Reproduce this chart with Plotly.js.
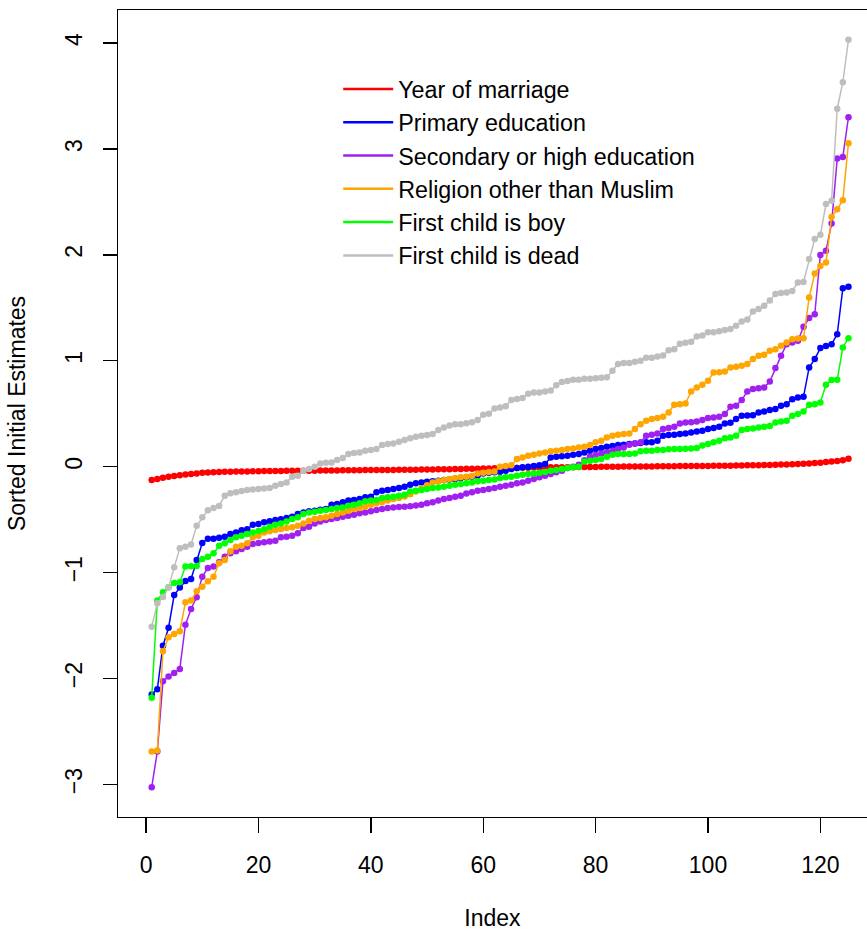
<!DOCTYPE html>
<html><head><meta charset="utf-8">
<script src="https://cdn.plot.ly/plotly-3.0.1.min.js"></script>
<style>html,body{margin:0;padding:0;background:#fff}</style>
</head><body><div id="chart" style="width:867px;height:936px"></div>
<script>
const seriesNames = ["Year of marriage","Primary education","Secondary or high education","Religion other than Muslim","First child is boy","First child is dead"];
const seriesColors = ["#FF0000","#0000FF","#A020F0","#FFA500","#00FF00","#BEBEBE"];
const xTicks = [0,20,40,60,80,100,120];
const yTicks = [-3,-2,-1,0,1,2,3,4];

const yearOfMarriage = [-0.125,-0.115,-0.105,-0.095,-0.088,-0.080,-0.074,-0.068,-0.063,-0.058,
 -0.055,-0.052,-0.050,-0.048,-0.047,-0.046,-0.045,-0.044,-0.043,-0.042,
 -0.041,-0.041,-0.040,-0.040,-0.039,-0.039,-0.038,-0.038,-0.037,-0.037,
 -0.036,-0.036,-0.035,-0.035,-0.034,-0.034,-0.033,-0.033,-0.032,-0.032,
 -0.031,-0.031,-0.030,-0.030,-0.029,-0.029,-0.028,-0.028,-0.027,-0.027,
 -0.026,-0.025,-0.024,-0.023,-0.022,-0.021,-0.020,-0.019,-0.018,-0.017,
 -0.016,-0.015,-0.014,-0.013,-0.012,-0.011,-0.010,-0.009,-0.008,-0.007,
 -0.006,-0.006,-0.005,-0.005,-0.004,-0.004,-0.003,-0.003,-0.002,-0.002,
 -0.001,-0.001,0.000,0.000,0.001,0.001,0.002,0.002,0.003,0.003,
 0.004,0.004,0.005,0.005,0.006,0.006,0.007,0.007,0.008,0.008,
 0.009,0.009,0.010,0.010,0.011,0.012,0.013,0.014,0.015,0.016,
 0.017,0.018,0.020,0.022,0.024,0.026,0.028,0.030,0.034,0.038,
 0.045,0.050,0.055,0.060,0.075];

const primaryEducation = [-2.15,-2.10,-1.69,-1.52,-1.21,-1.14,-1.08,-1.06,-0.88,-0.72,
 -0.68,-0.68,-0.67,-0.66,-0.635,-0.62,-0.60,-0.59,-0.547,-0.54,
 -0.525,-0.515,-0.503,-0.497,-0.484,-0.472,-0.447,-0.431,-0.421,-0.415,
 -0.406,-0.40,-0.358,-0.352,-0.336,-0.32,-0.314,-0.305,-0.289,-0.283,
 -0.242,-0.226,-0.22,-0.21,-0.20,-0.189,-0.17,-0.157,-0.148,-0.142,
 -0.138,-0.132,-0.126,-0.12,-0.116,-0.107,-0.10,-0.094,-0.085,-0.063,
 -0.057,-0.053,-0.047,-0.038,-0.022,-0.013,-0.006,0.0,0.006,0.013,
 0.025,0.088,0.094,0.10,0.104,0.113,0.12,0.135,0.150,0.167,
 0.176,0.189,0.195,0.205,0.208,0.214,0.22,0.223,0.23,0.232,
 0.245,0.292,0.299,0.302,0.308,0.314,0.324,0.333,0.34,0.355,
 0.365,0.377,0.409,0.415,0.45,0.481,0.483,0.487,0.512,0.522,
 0.535,0.544,0.575,0.591,0.638,0.654,0.66,0.937,1.016,1.12,
 1.14,1.157,1.25,1.686,1.70];

const secondaryEducation = [-3.025,-2.689,-2.025,-1.981,-1.947,-1.909,-1.491,-1.343,-1.233,-1.038,
 -0.956,-0.943,-0.903,-0.849,-0.818,-0.799,-0.777,-0.755,-0.73,-0.72,
 -0.714,-0.705,-0.698,-0.667,-0.66,-0.651,-0.629,-0.579,-0.566,-0.535,
 -0.516,-0.503,-0.494,-0.484,-0.472,-0.462,-0.453,-0.44,-0.431,-0.421,
 -0.409,-0.40,-0.39,-0.384,-0.38,-0.377,-0.372,-0.365,-0.358,-0.346,
 -0.336,-0.32,-0.305,-0.296,-0.283,-0.274,-0.252,-0.242,-0.226,-0.22,
 -0.21,-0.20,-0.189,-0.179,-0.17,-0.157,-0.148,-0.132,-0.116,-0.10,
 -0.085,-0.069,-0.053,-0.038,-0.013,0.0,0.019,0.06,0.095,0.11,
 0.126,0.135,0.151,0.167,0.182,0.208,0.22,0.23,0.292,0.302,
 0.314,0.355,0.365,0.377,0.409,0.418,0.42,0.428,0.44,0.459,
 0.465,0.472,0.497,0.566,0.575,0.629,0.711,0.733,0.742,0.748,
 0.805,0.931,1.047,1.157,1.173,1.189,1.321,1.403,1.44,2.0,
 2.04,2.296,2.909,2.925,3.30];

const religionNonMuslim = [-2.689,-2.68,-1.742,-1.61,-1.579,-1.553,-1.28,-1.264,-1.176,-1.132,
 -1.082,-1.038,-0.912,-0.881,-0.799,-0.755,-0.745,-0.723,-0.667,-0.651,
 -0.62,-0.61,-0.597,-0.588,-0.579,-0.572,-0.557,-0.535,-0.509,-0.494,
 -0.484,-0.478,-0.462,-0.447,-0.431,-0.415,-0.40,-0.39,-0.377,-0.358,
 -0.346,-0.336,-0.318,-0.305,-0.296,-0.28,-0.26,-0.235,-0.205,-0.175,
 -0.148,-0.138,-0.126,-0.116,-0.107,-0.10,-0.094,-0.088,-0.063,-0.057,
 -0.05,-0.044,0.0,0.006,0.013,0.072,0.088,0.104,0.113,0.126,
 0.135,0.145,0.151,0.157,0.167,0.173,0.182,0.189,0.205,0.23,
 0.245,0.277,0.292,0.302,0.308,0.314,0.355,0.402,0.434,0.45,
 0.459,0.472,0.512,0.585,0.591,0.597,0.711,0.748,0.774,0.811,
 0.89,0.893,0.899,0.937,0.943,0.953,0.969,1.016,1.047,1.057,
 1.094,1.11,1.142,1.173,1.204,1.211,1.214,1.597,1.824,1.896,
 1.927,2.358,2.43,2.516,3.054];

const firstChildBoy = [-2.18,-1.264,-1.186,-1.138,-1.097,-1.09,-0.943,-0.94,-0.937,-0.871,
 -0.849,-0.818,-0.745,-0.723,-0.692,-0.667,-0.651,-0.635,-0.62,-0.606,
 -0.59,-0.566,-0.547,-0.535,-0.516,-0.494,-0.478,-0.447,-0.431,-0.425,
 -0.415,-0.409,-0.40,-0.39,-0.384,-0.368,-0.358,-0.346,-0.327,-0.32,
 -0.314,-0.296,-0.289,-0.283,-0.274,-0.264,-0.233,-0.226,-0.22,-0.21,
 -0.20,-0.195,-0.189,-0.179,-0.17,-0.164,-0.157,-0.148,-0.138,-0.132,
 -0.126,-0.12,-0.107,-0.10,-0.094,-0.085,-0.075,-0.069,-0.063,-0.057,
 -0.05,-0.038,-0.031,-0.022,-0.013,-0.006,0.0,0.05,0.057,0.063,
 0.072,0.094,0.113,0.12,0.12,0.12,0.126,0.145,0.151,0.151,
 0.157,0.157,0.164,0.167,0.167,0.17,0.173,0.176,0.20,0.215,
 0.23,0.245,0.27,0.277,0.292,0.346,0.355,0.362,0.371,0.377,
 0.384,0.418,0.428,0.434,0.481,0.497,0.522,0.585,0.591,0.607,
 0.774,0.818,0.82,1.126,1.214];

const firstChildDead = [-1.51,-1.29,-1.23,-1.14,-0.95,-0.77,-0.755,-0.735,-0.557,-0.478,
 -0.41,-0.39,-0.37,-0.274,-0.25,-0.24,-0.23,-0.22,-0.214,-0.21,
 -0.205,-0.20,-0.18,-0.163,-0.148,-0.094,-0.085,-0.038,-0.022,0.0,
 0.031,0.038,0.041,0.063,0.082,0.12,0.129,0.135,0.151,0.157,
 0.167,0.205,0.214,0.22,0.236,0.252,0.27,0.283,0.292,0.30,
 0.31,0.346,0.37,0.39,0.40,0.40,0.41,0.42,0.44,0.49,
 0.50,0.55,0.56,0.57,0.63,0.64,0.65,0.69,0.70,0.70,
 0.71,0.72,0.77,0.80,0.81,0.82,0.82,0.83,0.83,0.835,
 0.84,0.845,0.906,0.97,0.98,0.98,0.99,1.00,1.03,1.03,
 1.04,1.05,1.10,1.11,1.16,1.17,1.18,1.23,1.24,1.27,
 1.27,1.28,1.29,1.30,1.33,1.37,1.39,1.465,1.49,1.52,
 1.57,1.63,1.64,1.645,1.66,1.74,1.745,1.96,2.15,2.19,
 2.48,2.51,3.38,3.63,4.03];

const allSeries = [yearOfMarriage, primaryEducation, secondaryEducation, religionNonMuslim, firstChildBoy, firstChildDead];
const indexValues = yearOfMarriage.map((_, i) => i + 1);

const traces = [];
allSeries.forEach((vals, k) => {
  traces.push({
    type: 'scatter', mode: 'lines+markers',
    x: indexValues, y: vals,
    name: seriesNames[k], showlegend: false, legendgroup: 'g' + k,
    line: {color: seriesColors[k], width: 1.5},
    marker: {color: seriesColors[k], size: 6.5}
  });
});
allSeries.forEach((vals, k) => {
  traces.push({
    type: 'scatter', mode: 'lines',
    x: [null], y: [null],
    name: seriesNames[k], showlegend: true, legendgroup: 'g' + k,
    line: {color: seriesColors[k], width: 2.5}
  });
});

const fontFam = '"Liberation Sans", Arial, Helvetica, sans-serif';
const layout = {
  width: 867, height: 936,
  margin: {l: 118, r: 0, t: 10, b: 119, pad: 0},
  paper_bgcolor: '#fff', plot_bgcolor: '#fff',
  font: {family: fontFam, size: 23, color: '#000'},
  showlegend: true,
  legend: {x: 0.294, y: 0.929, xanchor: 'left', yanchor: 'top', bgcolor: 'rgba(0,0,0,0)',
           borderwidth: 0, itemwidth: 50, font: {size: 23.3, family: fontFam}, traceorder: 'normal'},
  xaxis: {
    range: [-5, 128.3], tickmode: 'array', tickvals: xTicks, ticktext: xTicks.map(String),
    ticks: 'outside', ticklen: 15, tickwidth: 1.3, tickcolor: '#000',
    showline: true, mirror: true, linecolor: '#000', linewidth: 1.3,
    showgrid: false, zeroline: false, ticklabelstandoff: 12,
    title: {text: 'Index', standoff: 33, font: {size: 23}}
  },
  yaxis: {
    range: [-3.307, 4.312], tickmode: 'array', tickvals: yTicks, ticktext: yTicks.map(v => v < 0 ? '\u2212' + Math.abs(v) : String(v)),
    tickangle: -90,
    ticks: 'outside', ticklen: 14, tickwidth: 1.3, tickcolor: '#000',
    showline: true, mirror: false, linecolor: '#000', linewidth: 1.3,
    showgrid: false, zeroline: false, ticklabelstandoff: 12,
    title: {text: 'Sorted Initial Estimates', standoff: 28, font: {size: 23}}
  }
};
Plotly.newPlot('chart', traces, layout, {displayModeBar: false, staticPlot: true});
</script></body></html>
